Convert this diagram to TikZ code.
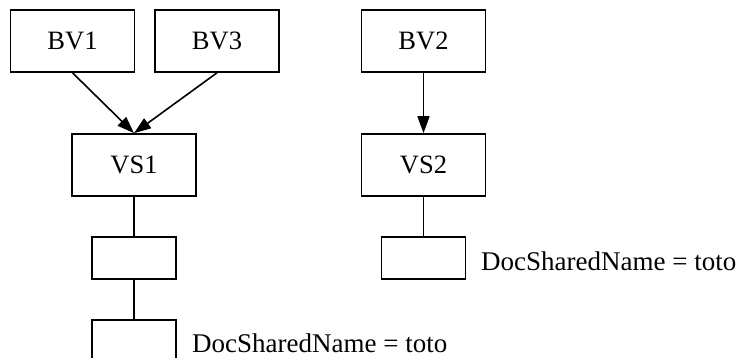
\documentclass[tikz,border=0pt]{standalone}
\usepackage{fontspec}
\setmainfont{Liberation Serif}
\usetikzlibrary{arrows.meta}
\begin{document}
\begin{tikzpicture}[x=1pt,y=-1pt,
  box/.style={draw=black,line width=1.6pt,inner sep=0pt,font=\fontsize{26.5}{30}\selectfont},
  big/.style={box,minimum width=124pt,minimum height=62pt},
  small/.style={box,minimum width=84pt,minimum height=42pt},
  arr/.style={line width=1.6pt,-{Triangle[length=17pt,width=12pt]}},
  ln/.style={line width=1.6pt},
  lbl/.style={inner sep=0pt,anchor=base west,font=\fontsize{27}{30}\selectfont}]
\useasboundingbox (0,0) rectangle (742,358);
\node[big] (bv1) at (72.5,41) {BV1};
\node[big] (bv3) at (217,41) {BV3};
\node[big] (bv2) at (423.5,41) {BV2};
\node[big] (vs1) at (134,165) {VS1};
\node[big] (vs2) at (423.5,165) {VS2};
\node[small] (s1) at (134,258) {};
\node[small] (s2) at (134,341) {};
\node[small] (s3) at (423.5,258) {};
\node[lbl] (l2) at (192,352) {DocSharedName = toto};
\node[lbl] (l3) at (481,271) {DocSharedName = toto};
\draw[arr] (bv1.south) -- (vs1.north);
\draw[arr] (bv3.south) -- (vs1.north);
\draw[arr] (bv2.south) -- (vs2.north);
\draw[ln] (vs1.south) -- (s1.north);
\draw[ln] (s1.south) -- (s2.north);
\draw[ln] (vs2.south) -- (s3.north);
\end{tikzpicture}
\end{document}
